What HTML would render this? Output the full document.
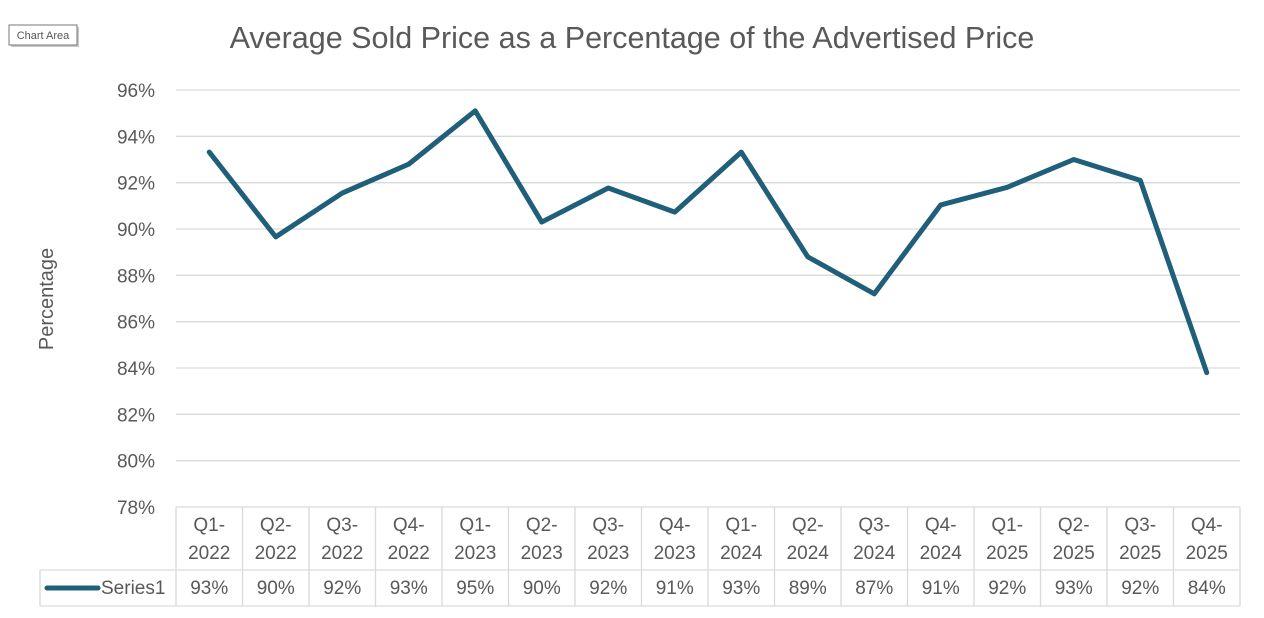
<!DOCTYPE html>
<html><head><meta charset="utf-8"><style>
body{margin:0;background:#fff;}
svg{display:block;font-family:"Liberation Sans",sans-serif;}
</style></head><body>
<svg id="chart" width="1264" height="618" viewBox="0 0 1264 618">
<rect x="0" y="0" width="1264" height="618" fill="#fff"/>
<g>
<rect x="11" y="27" width="68" height="20" fill="#c8c8c8"/>
<rect x="9" y="25" width="68" height="20" fill="#fff" stroke="#777" stroke-width="1"/>
<text x="43" y="39" font-size="11" fill="#555" text-anchor="middle">Chart Area</text>
</g>
<text x="632" y="48" font-size="30.5" fill="#595959" text-anchor="middle">Average Sold Price as a Percentage of the Advertised Price</text>
<text transform="translate(53,299) rotate(-90)" font-size="20" fill="#595959" text-anchor="middle">Percentage</text>
<g id="grid"></g><g id="yticks"></g><g id="table"></g><g id="series"></g>
</svg>
<script>
const categories=["Q1-2022","Q2-2022","Q3-2022","Q4-2022","Q1-2023","Q2-2023","Q3-2023","Q4-2023","Q1-2024","Q2-2024","Q3-2024","Q4-2024","Q1-2025","Q2-2025","Q3-2025","Q4-2025"];
const values=[93.32,89.66,91.55,92.8,95.1,90.3,91.77,90.73,93.32,88.8,87.2,91.04,91.8,93.0,92.1,83.8];
const yTicks=[78,80,82,84,86,88,90,92,94,96];
const seriesName="Series1";
const NS="http://www.w3.org/2000/svg";
const X0=176,X1=1240,Y0=507,Y1=90,yMin=78,yMax=96;
const colW=(X1-X0)/categories.length;
function xs(i){return X0+colW*(i+0.5);}
function ys(v){return Y0-(v-yMin)/(yMax-yMin)*(Y0-Y1);}
function mk(tag,attrs,parent){const e=document.createElementNS(NS,tag);for(const k in attrs)e.setAttribute(k,attrs[k]);parent.appendChild(e);return e;}
const grid=document.getElementById('grid'),yt=document.getElementById('yticks'),tb=document.getElementById('table'),sr=document.getElementById('series');
yTicks.forEach(t=>{
 if(t>yMin){const l=mk('line',{x1:X0,x2:X1,y1:ys(t),y2:ys(t),stroke:'#d9d9d9','stroke-width':1.3},grid);
 
 }
 const tx=mk('text',{x:155,y:ys(t)+7,'font-size':19,fill:'#595959','text-anchor':'end'},yt);
 tx.textContent=t+'%';
 
 
});
const TY0=507,TY1=570,TY2=606;
const st={stroke:'#d9d9d9','stroke-width':1.3};
mk('line',Object.assign({x1:X0,x2:X1,y1:TY0,y2:TY0},st),tb);
mk('line',Object.assign({x1:40,x2:X1,y1:TY1,y2:TY1},st),tb);
mk('line',Object.assign({x1:40,x2:X1,y1:TY2,y2:TY2},st),tb);
mk('line',Object.assign({x1:40,x2:40,y1:TY1,y2:TY2},st),tb);
for(let i=0;i<=categories.length;i++){const x=X0+colW*i;mk('line',Object.assign({x1:x,x2:x,y1:TY0,y2:TY2},st),tb);}
categories.forEach((c,i)=>{
 const p=c.split('-');
 const t=mk('text',{x:xs(i),y:531,'font-size':19,fill:'#595959','text-anchor':'middle'},tb);
 t.textContent=p[0]+'-';
 
 
 const t2=mk('text',{x:xs(i),y:559,'font-size':19,fill:'#595959','text-anchor':'middle'},tb);
 t2.textContent=p[1];
 const v=mk('text',{x:xs(i),y:594,'font-size':19,fill:'#595959','text-anchor':'middle'},tb);
 v.textContent=Math.round(values[i])+'%';
 
 
});
const lk=mk('line',{x1:47,x2:98,y1:588,y2:588,stroke:'#1f5f7a','stroke-width':5,'stroke-linecap':'round'},tb);


const ln=mk('text',{x:101,y:594,'font-size':19,fill:'#595959'},tb);
ln.textContent=seriesName;


const pts=values.map((v,i)=>xs(i)+','+ys(v)).join(' ');
const pl=mk('polyline',{points:pts,fill:'none',stroke:'#1f5f7a','stroke-width':5,'stroke-linejoin':'round','stroke-linecap':'round'},sr);


</script>
</body></html>
